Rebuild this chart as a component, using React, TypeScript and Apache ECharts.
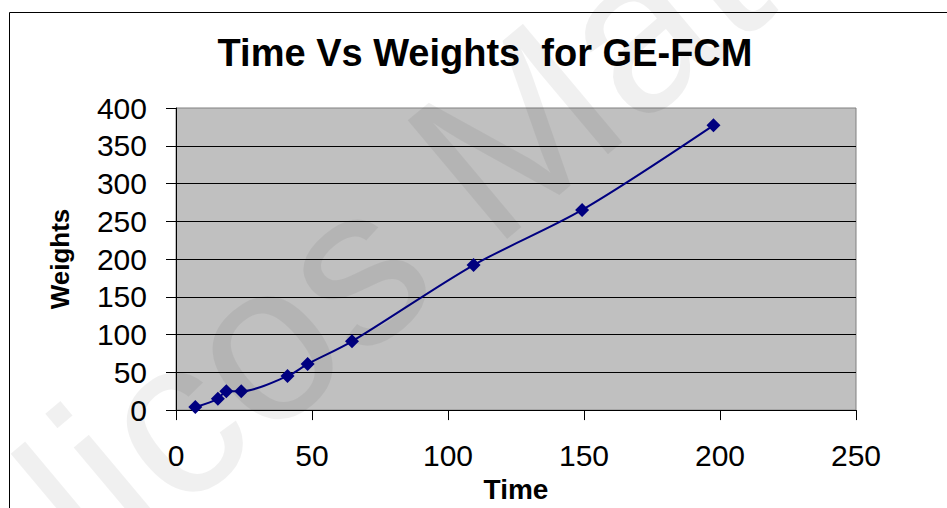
import React, { useEffect, useRef } from "react";
import * as echarts from "echarts";

const chartTitle = "Time Vs Weights  for GE-FCM";
const xAxisName = "Time";
const yAxisName = "Weights";
const timeValues = [7.1, 15.4, 18.5, 24.0, 41.0, 48.4, 64.7, 109.4, 149.3, 197.6];
const weightValues = [4, 15, 25, 25, 45, 61, 91, 192, 265, 377];
const watermarkText = "Nicos Mat";

const FONT = "'Liberation Sans', Arial, Helvetica, sans-serif";

export default function App() {
  const ref = useRef<HTMLDivElement>(null);
  useEffect(() => {
    if (!ref.current) return;
    const chart = echarts.init(ref.current, undefined, { renderer: "svg" });
    const data = timeValues.map((t, i) => [t, weightValues[i]]);
    const rot = (40 * Math.PI) / 180;
    chart.setOption({
      animation: false,
      backgroundColor: "#ffffff",
      title: {
        text: chartTitle,
        left: 480,
        top: 29,
        textAlign: "center",
        textStyle: { fontFamily: FONT, fontSize: 38, fontWeight: "bold", color: "#000" },
      },
      grid: {
        left: 176,
        right: 91,
        top: 108,
        bottom: 96,
        show: true,
        backgroundColor: "#C0C0C0",
        borderColor: "#808080",
        borderWidth: 1,
      },
      xAxis: {
        type: "value",
        min: 0,
        max: 250,
        interval: 50,
        name: xAxisName,
        nameLocation: "middle",
        nameGap: 59,
        nameTextStyle: { fontFamily: FONT, fontSize: 28, fontWeight: "bold", color: "#000" },
        axisLine: { show: true, onZero: false, lineStyle: { color: "#000", width: 1 } },
        axisTick: { show: true, inside: false, length: 10, lineStyle: { color: "#000" } },
        axisLabel: { fontFamily: FONT, fontSize: 30, color: "#000", margin: 30 },
        splitLine: { show: false },
      },
      yAxis: {
        type: "value",
        min: 0,
        max: 400,
        interval: 50,
        name: yAxisName,
        nameLocation: "middle",
        nameGap: 103,
        nameTextStyle: { fontFamily: FONT, fontSize: 26, fontWeight: "bold", color: "#000" },
        axisLine: { show: true, onZero: false, lineStyle: { color: "#000", width: 1 } },
        axisTick: { show: true, inside: false, length: 10, lineStyle: { color: "#000" } },
        axisLabel: { fontFamily: FONT, fontSize: 30, color: "#000", margin: 29 },
        splitLine: { show: true, showMaxLine: false, lineStyle: { color: "#000", width: 1 } },
      },
      graphic: [
        {
          type: "rect",
          z: 100,
          silent: true,
          shape: { x: 9.5, y: 12.5, width: 1200, height: 800 },
          style: { fill: "none", stroke: "#000", lineWidth: 1 },
        },
        {
          type: "text",
          z: 100,
          silent: true,
          x: -36,
          y: 593,
          rotation: rot,
          style: {
            text: watermarkText,
            font: `225px ${FONT}`,
            fill: "rgba(0,0,0,0.06)",
            textAlign: "left",
            textVerticalAlign: "middle",
          },
        },
      ],
      series: [
        {
          type: "line",
          data,
          smooth: 0.3,
          symbol: "diamond",
          symbolSize: 14,
          showSymbol: true,
          lineStyle: { color: "#000080", width: 2 },
          itemStyle: { color: "#000080" },
          z: 3,
        },
      ],
    });
    return () => chart.dispose();
  }, []);
  return <div ref={ref} style={{ width: 947, height: 508, position: "absolute", left: 0, top: 0 }} />;
}
